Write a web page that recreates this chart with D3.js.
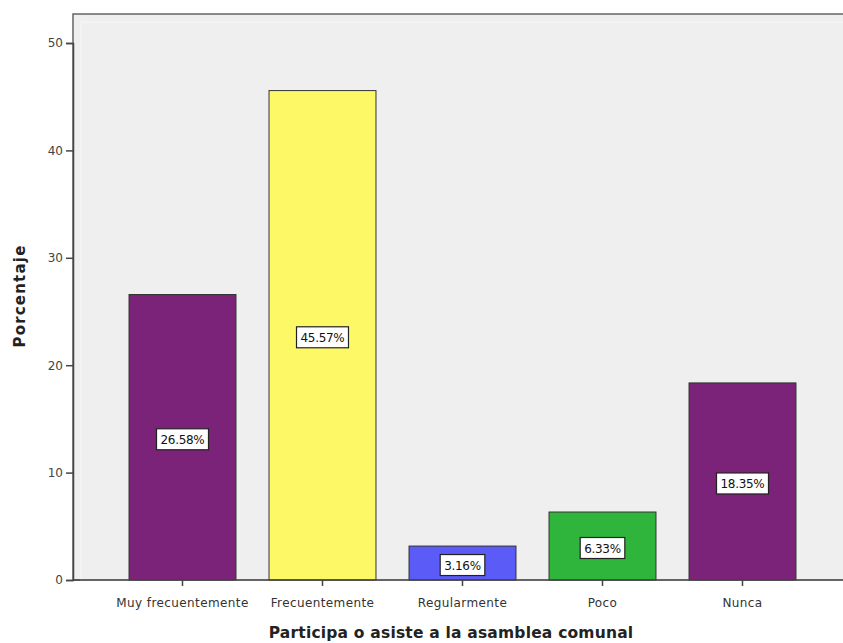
<!DOCTYPE html>
<html><head><meta charset="utf-8">
<script src="https://cdn.jsdelivr.net/npm/d3@7"></script>
<style>body{margin:0;background:#fff}svg{display:block}</style>
</head><body>
<script>
const categories = ["Muy frecuentemente","Frecuentemente","Regularmente","Poco","Nunca"];
const values = [26.58, 45.57, 3.16, 6.33, 18.35];
const colors = ["#7b2279","#fdf865","#5b5bf7","#2fb43c","#7b2279"];
const yTicks = [0,10,20,30,40,50];
const xTitle = "Participa o asiste a la asamblea comunal";
const yTitle = "Porcentaje";

(function(){
const W = 843, H = 643;
const svg = d3.select("body").append("svg").attr("width",W).attr("height",H);
const mLeft = 73, mTop = 14, mRight = 850, mBottom = 580;
const font = "DejaVu Sans, Verdana, sans-serif";

svg.append("rect").attr("x",mLeft).attr("y",mTop).attr("width",mRight-mLeft).attr("height",mBottom-mTop)
  .attr("fill","#efefef").attr("stroke","#666").attr("stroke-width",1.5);
svg.append("rect").attr("x",mLeft+8).attr("y",mTop+8).attr("width",mRight-mLeft).attr("height",mBottom-mTop-8)
  .attr("fill","none").attr("stroke","#f7f7f7").attr("stroke-width",1);

const x = d3.scaleBand().domain(categories).range([112.5, 812.5]).paddingInner(0.236).paddingOuter(0.118);
const y = d3.scaleLinear().domain([0,50]).range([mBottom, 43]);

const bars = svg.append("g");
bars.selectAll("rect").data(values).join("rect")
  .attr("x",(d,i)=>x(categories[i]))
  .attr("y",d=>y(d))
  .attr("width",x.bandwidth())
  .attr("height",d=>y(0)-y(d))
  .attr("fill",(d,i)=>colors[i])
  .attr("stroke","#333").attr("stroke-width",1);

const labels = svg.append("g").attr("font-family",font).attr("font-size",12).attr("letter-spacing",-0.3);
values.forEach((d,i)=>{
  const cx = x(categories[i]) + x.bandwidth()/2;
  const cy = (y(d)+y(0))/2 + 2;
  const t = d.toFixed(2)+"%";
  const g = labels.append("g");
  const txt = g.append("text").attr("x",cx).attr("y",cy+4.5).attr("text-anchor","middle").attr("fill","#111").text(t);
  const bb = txt.node().getBBox();
  g.insert("rect","text").attr("x",cx-bb.width/2-4).attr("y",cy-10.5).attr("width",bb.width+8).attr("height",21)
    .attr("fill","#fff").attr("stroke","#222").attr("stroke-width",1.2);
});

const yAxis = svg.append("g").attr("transform",`translate(${mLeft},0)`)
  .call(d3.axisLeft(y).tickValues(yTicks).tickSize(7).tickPadding(3));
yAxis.select(".domain").attr("stroke","#444").attr("stroke-width",1.5);
yAxis.selectAll(".tick line").attr("stroke","#444").attr("stroke-width",1.5);
yAxis.selectAll("text").attr("font-family",font).attr("font-size",12).attr("fill","#444");

const xAxis = svg.append("g").attr("transform",`translate(0,${mBottom})`)
  .call(d3.axisBottom(x).tickSize(6).tickPadding(12));
xAxis.select(".domain").attr("d",`M${mLeft},0H${mRight}`).attr("stroke","#444").attr("stroke-width",1.5);
xAxis.selectAll(".tick line").attr("stroke","#444").attr("stroke-width",1.5);
xAxis.selectAll("text").attr("font-family",font).attr("font-size",12).attr("letter-spacing",0.4).attr("fill","#333");

svg.append("text").attr("x",451).attr("y",638).attr("text-anchor","middle")
  .attr("font-family",font).attr("font-size",15.5).attr("font-weight","bold").attr("letter-spacing",0.2).attr("fill","#222").text(xTitle);
svg.append("text").attr("transform","translate(25,296) rotate(-90)").attr("text-anchor","middle")
  .attr("font-family",font).attr("font-size",15).attr("font-weight","bold").attr("letter-spacing",1.2).attr("fill","#222").text(yTitle);
})();
</script>
</body></html>
